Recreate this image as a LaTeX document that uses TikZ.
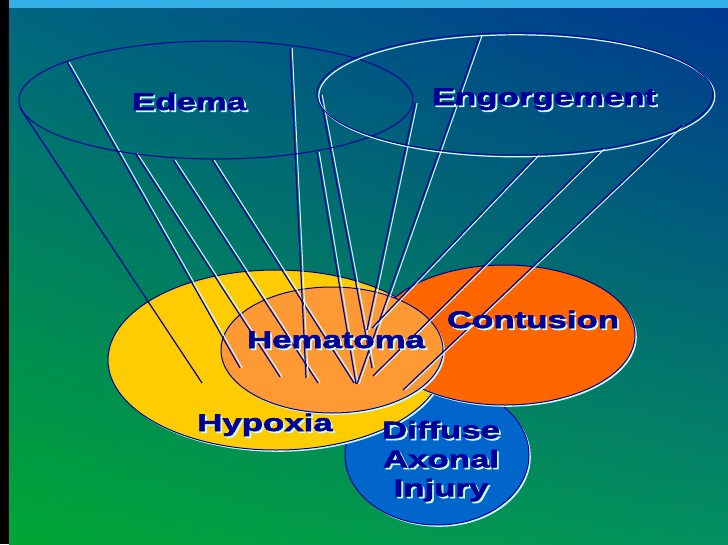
\documentclass[tikz,border=0pt]{standalone}
\usepackage{fontspec}
\newfontfamily\lblfont[FakeStretch=1.45,BoldFeatures={FakeBold=2.5}]{Liberation Sans}
\usetikzlibrary{shapes.geometric,shadings,shadows}

\definecolor{navyline}{HTML}{000099}
\definecolor{palecyan}{HTML}{CCFFFF}
\definecolor{hypoxiafill}{HTML}{FFCC00}
\definecolor{contusionfill}{HTML}{FF6600}
\definecolor{hematomafill}{HTML}{FF9933}
\definecolor{daifill}{HTML}{0066CC}
\definecolor{topbar}{HTML}{33B0E8}
\definecolor{bgul}{HTML}{006680}
\definecolor{bgur}{HTML}{003890}
\definecolor{bgll}{HTML}{00A634}
\definecolor{bglr}{HTML}{049060}

% text with a pale shadow below right
\newcommand\shtxt[1]{\makebox[0pt][l]{\kern1.8pt\raisebox{-1.8pt}{\color{palecyan}#1}}#1}
% a fan line: pale copy shifted right, dark line on top
\newcommand\fan[2]{%
  \draw[paleline] ([xshift=2.2pt]#1) -- ([xshift=2.2pt]#2);
  \draw[darkline] (#1) -- (#2);}

\begin{document}
\begin{tikzpicture}[x=1pt,y=-1pt,
  ring/.style={ellipse,draw=navyline,line width=1pt,inner sep=0pt},
  blob/.style={ring,drop shadow={shadow xshift=1.8pt,shadow yshift=-1.8pt,
    fill=palecyan,opacity=1}},
  hollow/.style={ring,drop shadow={shadow xshift=1.8pt,shadow yshift=-1.8pt,
    fill=none,draw=palecyan,line width=1.2pt,opacity=1}},
  darkline/.style={draw=navyline,line width=1.2pt},
  paleline/.style={draw=palecyan,line width=1pt},
  lbl/.style={font=\lblfont\bfseries\fontsize{24}{29}\selectfont,text=navyline,
    inner sep=0pt,anchor=base,align=center}
]
  \useasboundingbox (0,0) rectangle (728,544);
  % background
  \shade[upper left=bgul,upper right=bgur,lower left=bgll,lower right=bglr]
    (9,8) rectangle (728,544);
  \fill[topbar] (9,0) rectangle (728,8);
  \fill[black] (0,0) rectangle (9,544);

  % lower ellipses
  \node[blob,fill=daifill,minimum width=184pt,minimum height=140pt] (dai) at (437,455) {};
  \node[blob,fill=hypoxiafill,minimum width=336pt,minimum height=180pt] (hypoxia) at (276,360) {};
  \node[blob,fill=contusionfill,minimum width=260pt,minimum height=140pt] (contusion) at (505,335) {};
  \node[blob,fill=hematomafill,minimum width=222pt,minimum height=126pt] (hematoma) at (332,350) {};

  % fan of lines
  \draw[darkline] (20,108) -- (202,383);
  \fan{67,62}{240,368}
  \fan{135,153}{280,377}
  \fan{173,160}{318,383}
  \fan{212,160}{354,383}
  \fan{290,48}{306,378}
  \fan{320,95}{372,368}
  \fan{317,152}{356,384}
  \fan{415,103}{367,330}
  \fan{480,35}{357,384}
  \fan{538,154}{372,328}
  \fan{603,148}{373,376}
  \fan{682,125}{403,390}

  % upper ellipses
  \node[ring,minimum width=394pt,minimum height=118pt] (edema) at (216,100) {};
  \node[hollow,minimum width=396pt,minimum height=122pt] (engorge) at (515,94) {};

  % labels
  \node[lbl] (edemalbl) at (189,110) {\shtxt{Edema}};
  \node[lbl] (engorgelbl) at (544,105) {\shtxt{Engorgement}};
  \node[lbl] (hematomalbl) at (336,348) {\shtxt{Hematoma}};
  \node[lbl] (contusionlbl) at (533,328) {\shtxt{Contusion}};
  \node[lbl] (hypoxialbl) at (265,431) {\shtxt{Hypoxia}};
  \node[lbl,anchor=center] (dailbl) at (441,462) {\shtxt{Diffuse}\\\shtxt{Axonal}\\\shtxt{Injury}};
\end{tikzpicture}
\end{document}
